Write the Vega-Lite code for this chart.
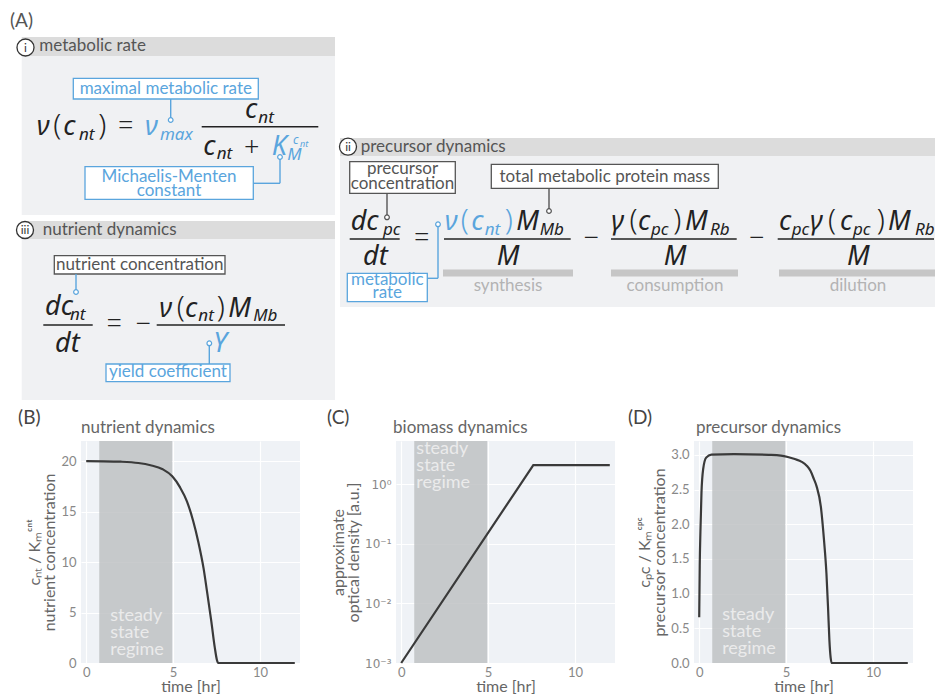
{
  "$schema": "https://vega.github.io/schema/vega-lite/v6.json",
  "padding": 0,
  "background": "white",
  "spacing": 0,
  "datasets": {
    "rects": [
      {"x": 0, "x2": 935, "y": 0, "y2": 400, "k": "bg"},
      {"x": 21.7, "x2": 335, "y": 37, "y2": 56, "k": "hdr"},
      {"x": 21.7, "x2": 335, "y": 56, "y2": 215, "k": "body"},
      {"x": 21.7, "x2": 335, "y": 221, "y2": 239, "k": "hdr"},
      {"x": 21.7, "x2": 335, "y": 239, "y2": 400, "k": "body"},
      {"x": 340, "x2": 935, "y": 138, "y2": 156, "k": "hdr"},
      {"x": 340, "x2": 935, "y": 156, "y2": 307, "k": "body"},
      {"x": 443, "x2": 573, "y": 269.5, "y2": 276.5, "k": "bar"},
      {"x": 611, "x2": 738, "y": 269.5, "y2": 276.5, "k": "bar"},
      {"x": 779, "x2": 935, "y": 269.5, "y2": 276.5, "k": "bar"}
    ],
    "boxes": [
      {"x": 73.3, "x2": 258.3, "y": 78.3, "y2": 99, "c": "b"},
      {"x": 85, "x2": 253.3, "y": 166.7, "y2": 199.3, "c": "b"},
      {"x": 54.3, "x2": 225, "y": 255.7, "y2": 274, "c": "g"},
      {"x": 106, "x2": 230, "y": 364, "y2": 381.7, "c": "b"},
      {"x": 349.7, "x2": 455.3, "y": 161.7, "y2": 193.3, "c": "g"},
      {"x": 491.3, "x2": 718.3, "y": 164.3, "y2": 188.3, "c": "g"},
      {"x": 347.3, "x2": 427.3, "y": 273.3, "y2": 301.7, "c": "b"}
    ],
    "lines": [
      {"x": 201.7, "x2": 318.3, "y": 126.7, "y2": 126.7, "c": "k"},
      {"x": 43.3, "x2": 92.7, "y": 325, "y2": 325, "c": "k"},
      {"x": 156.7, "x2": 285, "y": 325, "y2": 325, "c": "k"},
      {"x": 349.7, "x2": 399.7, "y": 239, "y2": 239, "c": "k"},
      {"x": 444, "x2": 570.7, "y": 239, "y2": 239, "c": "k"},
      {"x": 611, "x2": 736.7, "y": 239, "y2": 239, "c": "k"},
      {"x": 777.7, "x2": 934, "y": 239, "y2": 239, "c": "k"},
      {"x": 170.7, "x2": 170.7, "y": 99, "y2": 120, "c": "b"},
      {"x": 280, "x2": 280, "y": 157, "y2": 183.3, "c": "b"},
      {"x": 253.3, "x2": 280, "y": 183.3, "y2": 183.3, "c": "b"},
      {"x": 76, "x2": 76, "y": 274, "y2": 292, "c": "b"},
      {"x": 209.3, "x2": 209.3, "y": 343.3, "y2": 364, "c": "b"},
      {"x": 438, "x2": 438, "y": 224.3, "y2": 278.3, "c": "b"},
      {"x": 427.3, "x2": 438, "y": 278.3, "y2": 278.3, "c": "b"},
      {"x": 387, "x2": 387, "y": 193.3, "y2": 217.3, "c": "g"},
      {"x": 549, "x2": 549, "y": 188.3, "y2": 211, "c": "g"}
    ],
    "dots": [
      {"x": 170.7, "y": 120, "c": "b"},
      {"x": 280, "y": 157, "c": "b"},
      {"x": 76, "y": 292, "c": "b"},
      {"x": 209.3, "y": 343.3, "c": "b"},
      {"x": 438, "y": 224.3, "c": "b"},
      {"x": 387, "y": 217.3, "c": "g"},
      {"x": 549, "y": 211, "c": "g"}
    ],
    "nums": [
      {"x": 25.5, "y": 47.5, "t": "i"},
      {"x": 25, "y": 230, "t": "iii"},
      {"x": 348, "y": 146.7, "t": "ii"}
    ],
    "labels": [
      {"x": 10, "y": 27, "t": "(A)", "k": "A", "c": "g"},
      {"x": 39.3, "y": 51, "t": "metabolic rate", "k": "hdr", "c": "g"},
      {"x": 42.7, "y": 235, "t": "nutrient dynamics", "k": "hdr", "c": "g"},
      {"x": 360.7, "y": 151.7, "t": "precursor dynamics", "k": "hdr", "c": "g"},
      {"x": 165.8, "y": 93.5, "t": "maximal metabolic rate", "k": "c", "c": "b"},
      {"x": 169, "y": 181.7, "t": "Michaelis-Menten", "k": "c", "c": "b"},
      {"x": 169, "y": 195.5, "t": "constant", "k": "c", "c": "b"},
      {"x": 168, "y": 377, "t": "yield coefficient", "k": "c", "c": "b"},
      {"x": 387.3, "y": 285, "t": "metabolic", "k": "c", "c": "b"},
      {"x": 387.3, "y": 298.3, "t": "rate", "k": "c", "c": "b"},
      {"x": 139.7, "y": 270, "t": "nutrient concentration", "k": "c", "c": "g"},
      {"x": 402.5, "y": 174, "t": "precursor", "k": "c", "c": "g"},
      {"x": 402.5, "y": 188.7, "t": "concentration", "k": "c", "c": "g"},
      {"x": 604.8, "y": 182, "t": "total metabolic protein mass", "k": "c", "c": "g"},
      {"x": 508, "y": 291, "t": "synthesis", "k": "c", "c": "lg"},
      {"x": 675, "y": 291, "t": "consumption", "k": "c", "c": "lg"},
      {"x": 858, "y": 291, "t": "dilution", "k": "c", "c": "lg"}
    ],
    "math": [
      {"x": 36.7, "y": 135, "t": "ν", "k": "m", "c": "k"},
      {"x": 53.3, "y": 135, "t": "(", "k": "p", "c": "k"},
      {"x": 63.3, "y": 135, "t": "c", "k": "m", "c": "k"},
      {"x": 79, "y": 139.5, "t": "nt", "k": "s", "c": "k"},
      {"x": 98.3, "y": 135, "t": ")", "k": "p", "c": "k"},
      {"x": 125.8, "y": 127, "t": "=", "k": "op", "c": "k"},
      {"x": 145, "y": 135, "t": "ν", "k": "m", "c": "b"},
      {"x": 160, "y": 139.5, "t": "max", "k": "s", "c": "b"},
      {"x": 245, "y": 118.3, "t": "c", "k": "m", "c": "k"},
      {"x": 258.3, "y": 122.5, "t": "nt", "k": "s", "c": "k"},
      {"x": 203.3, "y": 155, "t": "c", "k": "m", "c": "k"},
      {"x": 216.7, "y": 159, "t": "nt", "k": "s", "c": "k"},
      {"x": 251.7, "y": 148.3, "t": "+", "k": "op", "c": "k"},
      {"x": 271.7, "y": 155, "t": "K", "k": "m", "c": "b"},
      {"x": 287.3, "y": 160, "t": "M", "k": "s", "c": "b"},
      {"x": 293, "y": 144, "t": "c", "k": "t", "c": "b"},
      {"x": 300, "y": 146.5, "t": "nt", "k": "tt", "c": "b"},
      {"x": 45, "y": 315, "t": "dc", "k": "m", "c": "k"},
      {"x": 70, "y": 319.5, "t": "nt", "k": "s", "c": "k"},
      {"x": 55, "y": 351.7, "t": "dt", "k": "m", "c": "k"},
      {"x": 114.2, "y": 325, "t": "=", "k": "op", "c": "k"},
      {"x": 143.3, "y": 325, "t": "−", "k": "op", "c": "k"},
      {"x": 159.3, "y": 316.7, "t": "ν", "k": "m", "c": "k"},
      {"x": 176.7, "y": 316.7, "t": "(", "k": "p", "c": "k"},
      {"x": 185, "y": 316.7, "t": "c", "k": "m", "c": "k"},
      {"x": 198.3, "y": 321, "t": "nt", "k": "s", "c": "k"},
      {"x": 216.7, "y": 316.7, "t": ")", "k": "p", "c": "k"},
      {"x": 228.3, "y": 316.7, "t": "M", "k": "m", "c": "k"},
      {"x": 253.3, "y": 321, "t": "Mb", "k": "s", "c": "k"},
      {"x": 213.3, "y": 351.7, "t": "Y", "k": "m", "c": "b"},
      {"x": 350.7, "y": 230, "t": "dc", "k": "m", "c": "k"},
      {"x": 383, "y": 234.5, "t": "pc", "k": "s", "c": "k"},
      {"x": 363, "y": 265, "t": "dt", "k": "m", "c": "k"},
      {"x": 421.7, "y": 239, "t": "=", "k": "op", "c": "k"},
      {"x": 444.7, "y": 230, "t": "ν", "k": "m", "c": "b"},
      {"x": 460.7, "y": 230, "t": "(", "k": "p", "c": "b"},
      {"x": 471.3, "y": 230, "t": "c", "k": "m", "c": "b"},
      {"x": 484.7, "y": 234.5, "t": "nt", "k": "s", "c": "b"},
      {"x": 504.7, "y": 230, "t": ")", "k": "p", "c": "b"},
      {"x": 516.3, "y": 230, "t": "M", "k": "m", "c": "k"},
      {"x": 539.7, "y": 234.5, "t": "Mb", "k": "s", "c": "k"},
      {"x": 508, "y": 265, "t": "M", "k": "mc", "c": "k"},
      {"x": 591.3, "y": 239, "t": "−", "k": "op", "c": "k"},
      {"x": 611.3, "y": 230, "t": "γ", "k": "m", "c": "k"},
      {"x": 629.5, "y": 230, "t": "(", "k": "p", "c": "k"},
      {"x": 638, "y": 230, "t": "c", "k": "m", "c": "k"},
      {"x": 651, "y": 234.5, "t": "pc", "k": "s", "c": "k"},
      {"x": 673.3, "y": 230, "t": ")", "k": "p", "c": "k"},
      {"x": 685, "y": 230, "t": "M", "k": "m", "c": "k"},
      {"x": 710, "y": 234.5, "t": "Rb", "k": "s", "c": "k"},
      {"x": 675, "y": 265, "t": "M", "k": "mc", "c": "k"},
      {"x": 756.7, "y": 239, "t": "−", "k": "op", "c": "k"},
      {"x": 779, "y": 230, "t": "c", "k": "m", "c": "k"},
      {"x": 791.7, "y": 234.5, "t": "pc", "k": "s", "c": "k"},
      {"x": 810, "y": 230, "t": "γ", "k": "m", "c": "k"},
      {"x": 828, "y": 230, "t": "(", "k": "p", "c": "k"},
      {"x": 840, "y": 230, "t": "c", "k": "m", "c": "k"},
      {"x": 853, "y": 234.5, "t": "pc", "k": "s", "c": "k"},
      {"x": 876.7, "y": 230, "t": ")", "k": "p", "c": "k"},
      {"x": 888, "y": 230, "t": "M", "k": "m", "c": "k"},
      {"x": 915, "y": 234.5, "t": "Rb", "k": "s", "c": "k"},
      {"x": 858.3, "y": 265, "t": "M", "k": "mc", "c": "k"}
    ]
  },
  "vconcat": [
    {
      "width": 854,
      "height": 400,
      "encoding": {
        "x": {"field": "x", "type": "quantitative", "scale": {"domain": [81, 935], "nice": false, "zero": false}, "axis": null},
        "y": {"field": "y", "type": "quantitative", "scale": {"domain": [0, 400], "nice": false, "zero": false, "reverse": true}, "axis": null}
      },
      "layer": [
        {
          "data": {"name": "rects"},
          "mark": {"type": "rect"},
          "encoding": {
            "x2": {"field": "x2"}, "y2": {"field": "y2"},
            "fill": {"field": "k", "type": "nominal", "scale": {"domain": ["bg", "hdr", "body", "bar"], "range": ["#ffffff", "#dcdcdc", "#f0f1f3", "#c6c6c6"]}, "legend": null}
          }
        },
        {
          "data": {"name": "boxes"},
          "mark": {"type": "rect", "fill": "white", "strokeWidth": 1.3},
          "encoding": {
            "x2": {"field": "x2"}, "y2": {"field": "y2"},
            "stroke": {"field": "c", "type": "nominal", "scale": {"domain": ["b", "g"], "range": ["#5aa5dd", "#555555"]}, "legend": null}
          }
        },
        {
          "data": {"name": "lines"},
          "mark": {"type": "rule", "strokeWidth": 1.4},
          "encoding": {
            "x2": {"field": "x2"}, "y2": {"field": "y2"},
            "color": {"field": "c", "type": "nominal", "scale": {"domain": ["k", "b", "g", "lg"], "range": ["#222222", "#5aa5dd", "#555555", "#b3b3b3"]}, "legend": null}
          }
        },
        {
          "data": {"name": "dots"},
          "mark": {"type": "point", "shape": "circle", "filled": true, "fill": "white", "opacity": 1, "size": 22, "strokeWidth": 1.2},
          "encoding": {
            "stroke": {"field": "c", "type": "nominal", "scale": {"domain": ["b", "g"], "range": ["#5aa5dd", "#555555"]}, "legend": null}
          }
        },
        {
          "data": {"name": "nums"},
          "mark": {"type": "point", "shape": "circle", "filled": true, "fill": "white", "stroke": "#333333", "strokeWidth": 1.3, "opacity": 1, "size": 290}
        },
        {
          "data": {"name": "nums"},
          "mark": {"type": "text", "font": "Lato", "fontSize": 12, "color": "#333333", "align": "center", "baseline": "middle"},
          "encoding": {"text": {"field": "t"}}
        },
        {
          "data": {"name": "labels"},
          "transform": [{"filter": "datum.k == 'A'"}],
          "mark": {"type": "text", "font": "Lato", "fontSize": 19, "align": "left", "baseline": "alphabetic"},
          "encoding": {"text": {"field": "t"}, "color": {"field": "c", "type": "nominal", "legend": null}}
        },
        {
          "data": {"name": "labels"},
          "transform": [{"filter": "datum.k == 'hdr'"}],
          "mark": {"type": "text", "font": "Lato", "fontSize": 17, "align": "left", "baseline": "alphabetic"},
          "encoding": {"text": {"field": "t"}, "color": {"field": "c", "type": "nominal", "legend": null}}
        },
        {
          "data": {"name": "labels"},
          "transform": [{"filter": "datum.k == 'c'"}],
          "mark": {"type": "text", "font": "Lato", "fontSize": 17, "align": "center", "baseline": "alphabetic"},
          "encoding": {"text": {"field": "t"}, "color": {"field": "c", "type": "nominal", "legend": null}}
        },
        {
          "data": {"name": "math"},
          "transform": [{"filter": "datum.k == 'm'"}],
          "mark": {"type": "text", "font": "Noto Sans", "fontStyle": "italic", "fontSize": 27, "align": "left", "baseline": "alphabetic"},
          "encoding": {"text": {"field": "t"}, "color": {"field": "c", "type": "nominal", "legend": null}}
        },
        {
          "data": {"name": "math"},
          "transform": [{"filter": "datum.k == 'mc'"}],
          "mark": {"type": "text", "font": "Noto Sans", "fontStyle": "italic", "fontSize": 27, "align": "center", "baseline": "alphabetic"},
          "encoding": {"text": {"field": "t"}, "color": {"field": "c", "type": "nominal", "legend": null}}
        },
        {
          "data": {"name": "math"},
          "transform": [{"filter": "datum.k == 's' && datum.x < 900"}],
          "mark": {"type": "text", "font": "Noto Sans", "fontStyle": "italic", "fontSize": 17, "align": "left", "baseline": "alphabetic"},
          "encoding": {"text": {"field": "t"}, "color": {"field": "c", "type": "nominal", "legend": null}}
        },
        {
          "data": {"name": "math"},
          "transform": [{"filter": "datum.k == 's' && datum.x >= 900"}],
          "mark": {"type": "text", "font": "Noto Sans", "fontStyle": "italic", "fontSize": 17, "align": "left", "baseline": "alphabetic", "clip": true},
          "encoding": {"text": {"field": "t"}, "color": {"field": "c", "type": "nominal", "legend": null}}
        },
        {
          "data": {"name": "math"},
          "transform": [{"filter": "datum.k == 't'"}],
          "mark": {"type": "text", "font": "Noto Sans", "fontStyle": "italic", "fontSize": 12, "align": "left", "baseline": "alphabetic"},
          "encoding": {"text": {"field": "t"}, "color": {"field": "c", "type": "nominal", "legend": null}}
        },
        {
          "data": {"name": "math"},
          "transform": [{"filter": "datum.k == 'tt'"}],
          "mark": {"type": "text", "font": "Noto Sans", "fontStyle": "italic", "fontSize": 9, "align": "left", "baseline": "alphabetic"},
          "encoding": {"text": {"field": "t"}, "color": {"field": "c", "type": "nominal", "legend": null}}
        },
        {
          "data": {"name": "math"},
          "transform": [{"filter": "datum.k == 'p'"}],
          "mark": {"type": "text", "font": "Noto Sans", "fontWeight": 300, "fontSize": 29, "align": "left", "baseline": "alphabetic"},
          "encoding": {"text": {"field": "t"}, "color": {"field": "c", "type": "nominal", "legend": null}}
        },
        {
          "data": {"name": "math"},
          "transform": [{"filter": "datum.k == 'op'"}],
          "mark": {"type": "text", "font": "Noto Sans", "fontWeight": 300, "fontSize": 27, "align": "center", "baseline": "middle"},
          "encoding": {"text": {"field": "t"}, "color": {"field": "c", "type": "nominal", "legend": null}}
        }
      ]
    },
    {
      "spacing": 16,
      "hconcat": [
        {
          "width": 219,
          "height": 222,
          "view": {"fill": "#eff2f6", "stroke": null},
          "layer": [
            {
              "data": {"values": [{"start": 0.75, "end": 4.95}]},
              "mark": {"type": "rect", "color": "#bcbec1", "opacity": 0.8},
              "encoding": {
                "x": {"field": "start", "type": "quantitative", "scale": {"domain": [-0.3, 12.3], "nice": false, "zero": false}, "axis": {"values": [0, 5, 10], "title": "time [hr]"}},
                "x2": {"field": "end"}
              }
            },
            {
              "data": {"values": [
                {"t": 0, "v": 20}, {"t": 1, "v": 19.99}, {"t": 2, "v": 19.95}, {"t": 3, "v": 19.82},
                {"t": 3.7, "v": 19.6}, {"t": 4.4, "v": 19.2}, {"t": 4.95, "v": 18.5}, {"t": 5.4, "v": 17.4},
                {"t": 5.8, "v": 16.0}, {"t": 6.15, "v": 14.1}, {"t": 6.45, "v": 12.0}, {"t": 6.75, "v": 9.4},
                {"t": 6.95, "v": 7.1}, {"t": 7.2, "v": 4.1}, {"t": 7.4, "v": 1.5}, {"t": 7.52, "v": 0.3},
                {"t": 7.6, "v": 0}, {"t": 9, "v": 0}, {"t": 12, "v": 0}
              ]},
              "mark": {"type": "line", "color": "#3a3a3a", "strokeWidth": 2.2, "interpolate": "monotone"},
              "encoding": {
                "x": {"field": "t", "type": "quantitative", "axis": {"values": [0, 5, 10], "title": "time [hr]"}},
                "y": {"field": "v", "type": "quantitative", "scale": {"domain": [0, 22], "nice": false, "zero": false}, "axis": {"values": [0, 5, 10, 15, 20], "title": ["cₙₜ / Kₘᶜⁿᵗ", "nutrient concentration"]}}
              }
            },
            {
              "data": {"values": [{"lbl": "steady state regime"}]},
              "mark": {"type": "text", "align": "left", "baseline": "alphabetic", "fontSize": 18, "lineHeight": 17, "color": "#ebebeb"},
              "encoding": {
                "x": {"datum": 1.38, "type": "quantitative"},
                "y": {"datum": 4.14, "type": "quantitative"},
                "text": {"value": ["steady", "state", "regime"]}
              }
            },
            {
              "data": {"values": [{"name": "nutrient dynamics"}]},
              "mark": {"type": "text", "align": "left", "baseline": "alphabetic", "fontSize": 17, "color": "#666666"},
              "encoding": {
                "x": {"datum": -0.3, "type": "quantitative"},
                "y": {"datum": 22.82, "type": "quantitative"},
                "text": {"field": "name"}
              }
            },
            {
              "data": {"values": [{"panel": "(B)"}]},
              "mark": {"type": "text", "align": "left", "baseline": "alphabetic", "fontSize": 19, "color": "#444444"},
              "encoding": {
                "x": {"datum": -3.92, "type": "quantitative"},
                "y": {"datum": 23.71, "type": "quantitative"},
                "text": {"field": "panel"}
              }
            },
            {
              "data": {"values": [{"anchor": "frame"}]},
              "mark": {"type": "rule", "opacity": 0, "strokeWidth": 1},
              "encoding": {
                "x": {"datum": -4.96, "type": "quantitative"},
                "x2": {"datum": -4.6},
                "y": {"datum": 25.96, "type": "quantitative"}
              }
            }
          ]
        },
        {
          "spacing": 4,
          "hconcat": [
            {
              "width": 219,
              "height": 222,
              "view": {"fill": "#eff2f6", "stroke": null},
              "layer": [
                {
                  "data": {"values": [{"start": 0.75, "end": 4.95}]},
                  "mark": {"type": "rect", "color": "#bcbec1", "opacity": 0.8},
                  "encoding": {
                    "x": {"field": "start", "type": "quantitative", "scale": {"domain": [-0.3, 12.3], "nice": false, "zero": false}, "axis": {"values": [0, 5, 10], "title": "time [hr]"}},
                    "x2": {"field": "end"}
                  }
                },
                {
                  "data": {"values": [{"t": 0, "v": 0.001}, {"t": 7.6, "v": 2.1}, {"t": 12, "v": 2.1}]},
                  "mark": {"type": "line", "color": "#3a3a3a", "strokeWidth": 2.2},
                  "encoding": {
                    "x": {"field": "t", "type": "quantitative", "axis": {"values": [0, 5, 10], "title": "time [hr]"}},
                    "y": {"field": "v", "type": "quantitative", "scale": {"type": "log", "domain": [0.001, 5.32], "nice": false}, "axis": {"values": [0.001, 0.01, 0.1, 1], "labelExpr": "'10' + (abs(log(datum.value)/LN10) < 0.5 ? '⁰' : abs(log(datum.value)/LN10 + 1) < 0.5 ? '⁻¹' : abs(log(datum.value)/LN10 + 2) < 0.5 ? '⁻²' : '⁻³')", "labelFont": "DejaVu Sans", "labelFontSize": 12, "title": ["approximate", "optical density [a.u.]"]}}
                  }
                },
                {
                  "data": {"values": [{"lbl": "steady state regime"}]},
                  "mark": {"type": "text", "align": "left", "baseline": "alphabetic", "fontSize": 18, "lineHeight": 17, "color": "#ebebeb"},
                  "encoding": {
                    "x": {"datum": 0.87, "type": "quantitative"},
                    "y": {"datum": 3.19, "type": "quantitative"},
                    "text": {"value": ["steady", "state", "regime"]}
                  }
                },
                {
                  "data": {"values": [{"name": "biomass dynamics"}]},
                  "mark": {"type": "text", "align": "left", "baseline": "alphabetic", "fontSize": 17, "color": "#666666"},
                  "encoding": {
                    "x": {"datum": -0.47, "type": "quantitative"},
                    "y": {"datum": 7.33, "type": "quantitative"},
                    "text": {"field": "name"}
                  }
                },
                {
                  "data": {"values": [{"panel": "(C)"}]},
                  "mark": {"type": "text", "align": "left", "baseline": "alphabetic", "fontSize": 19, "color": "#444444"},
                  "encoding": {
                    "x": {"datum": -4.27, "type": "quantitative"},
                    "y": {"datum": 10.38, "type": "quantitative"},
                    "text": {"field": "panel"}
                  }
                },
                {
                  "data": {"values": [{"anchor": "frame"}]},
                  "mark": {"type": "rule", "opacity": 0, "strokeWidth": 1},
                  "encoding": {
                    "x": {"datum": -4.9, "type": "quantitative"},
                    "x2": {"datum": -4.6},
                    "y": {"datum": 24.9, "type": "quantitative"}
                  }
                }
              ]
            },
            {
              "width": 219,
              "height": 222,
              "view": {"fill": "#eff2f6", "stroke": null},
              "layer": [
                {
                  "data": {"values": [{"start": 0.75, "end": 4.95}]},
                  "mark": {"type": "rect", "color": "#bcbec1", "opacity": 0.8},
                  "encoding": {
                    "x": {"field": "start", "type": "quantitative", "scale": {"domain": [-0.3, 12.3], "nice": false, "zero": false}, "axis": {"values": [0, 5, 10], "title": "time [hr]"}},
                    "x2": {"field": "end"}
                  }
                },
                {
                  "data": {"values": [
                    {"t": 0, "v": 0.66}, {"t": 0.03, "v": 1.4}, {"t": 0.07, "v": 1.9}, {"t": 0.13, "v": 2.45},
                    {"t": 0.23, "v": 2.8}, {"t": 0.4, "v": 2.96}, {"t": 0.7, "v": 3.005}, {"t": 2, "v": 3.01},
                    {"t": 4, "v": 3.0}, {"t": 4.7, "v": 2.99}, {"t": 5.1, "v": 2.97}, {"t": 5.5, "v": 2.94},
                    {"t": 5.9, "v": 2.9}, {"t": 6.2, "v": 2.84}, {"t": 6.4, "v": 2.77}, {"t": 6.6, "v": 2.65},
                    {"t": 6.75, "v": 2.55}, {"t": 7.0, "v": 2.25}, {"t": 7.18, "v": 1.77}, {"t": 7.32, "v": 1.29},
                    {"t": 7.41, "v": 0.81}, {"t": 7.49, "v": 0.33}, {"t": 7.56, "v": 0.08}, {"t": 7.62, "v": 0},
                    {"t": 9, "v": 0}, {"t": 12, "v": 0}
                  ]},
                  "mark": {"type": "line", "color": "#3a3a3a", "strokeWidth": 2.2, "interpolate": "monotone"},
                  "encoding": {
                    "x": {"field": "t", "type": "quantitative", "axis": {"values": [0, 5, 10], "title": "time [hr]"}},
                    "y": {"field": "v", "type": "quantitative", "scale": {"domain": [0, 3.2], "nice": false, "zero": false}, "axis": {"values": [0, 0.5, 1, 1.5, 2, 2.5, 3], "tickCount": 7, "labelOverlap": false, "labelExpr": "format(datum.value, '.1f')", "title": ["cₚc / Kₘᶜᵖᶜ", "precursor concentration"]}}
                  }
                },
                {
                  "data": {"values": [{"lbl": "steady state regime"}]},
                  "mark": {"type": "text", "align": "left", "baseline": "alphabetic", "fontSize": 18, "lineHeight": 17, "color": "#ebebeb"},
                  "encoding": {
                    "x": {"datum": 1.32, "type": "quantitative"},
                    "y": {"datum": 0.615, "type": "quantitative"},
                    "text": {"value": ["steady", "state", "regime"]}
                  }
                },
                {
                  "data": {"values": [{"name": "precursor dynamics"}]},
                  "mark": {"type": "text", "align": "left", "baseline": "alphabetic", "fontSize": 17, "color": "#666666"},
                  "encoding": {
                    "x": {"datum": -0.185, "type": "quantitative"},
                    "y": {"datum": 3.32, "type": "quantitative"},
                    "text": {"field": "name"}
                  }
                },
                {
                  "data": {"values": [{"panel": "(D)"}]},
                  "mark": {"type": "text", "align": "left", "baseline": "alphabetic", "fontSize": 19, "color": "#444444"},
                  "encoding": {
                    "x": {"datum": -4.1, "type": "quantitative"},
                    "y": {"datum": 3.449, "type": "quantitative"},
                    "text": {"field": "panel"}
                  }
                },
                {
                  "data": {"values": [{"anchor": "frame"}]},
                  "mark": {"type": "rule", "opacity": 0, "strokeWidth": 1},
                  "encoding": {
                    "x": {"datum": -4.615, "type": "quantitative"},
                    "x2": {"datum": -4.3},
                    "y": {"datum": 3.777, "type": "quantitative"}
                  }
                }
              ]
            }
          ]
        }
      ]
    }
  ],
  "config": {
    "view": {"stroke": null},
    "font": "Lato",
    "axis": {
      "domain": false, "ticks": false, "grid": true, "gridColor": "#ffffff", "gridWidth": 1.2,
      "labelColor": "#888888", "labelFontSize": 13, "labelFont": "Lato", "labelOverlap": false,
      "titleColor": "#666666", "titleFontSize": 16, "titleFontWeight": "normal", "titleFont": "Lato"
    },
    "axisX": {"labelPadding": 3, "titlePadding": -1},
    "axisY": {"labelPadding": 5, "titlePadding": 3, "titleLineHeight": 15}
  }
}
